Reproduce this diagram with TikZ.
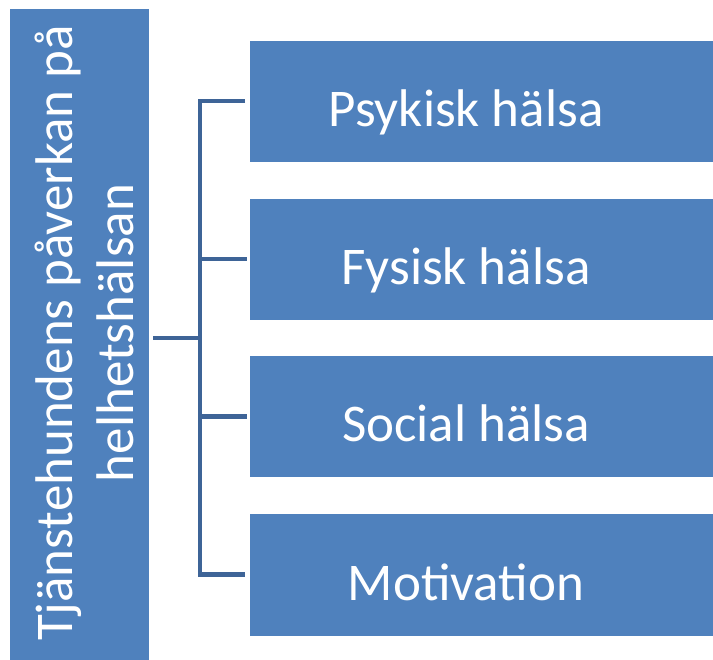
\documentclass[tikz,border=0pt]{standalone}
\usepackage{fontspec}
\setmainfont{Carlito}
\definecolor{boxblue}{HTML}{4F81BD}
\definecolor{linkblue}{HTML}{3E6497}
\begin{document}
\begin{tikzpicture}[x=1pt,y=-1pt,
  bluebox/.style={fill=boxblue,draw=none},
  lbl/.style={text=white,font=\fontsize{53}{61}\selectfont,inner sep=0pt},
  link/.style={draw=linkblue,line width=4.5pt,line cap=rect}]
\useasboundingbox (0,0) rectangle (713,660);
\fill[bluebox] (10,9) rectangle (149,665);
\node[lbl,rotate=90,align=center] (main) at (84,333) {Tjänstehundens påverkan på\\helhetshälsan};
\coordinate (mainR) at (155,338);
\foreach \i/\t/\yc in {1/Psykisk hälsa/101.5, 2/Fysisk hälsa/259.5, 3/Social hälsa/417, 4/Motivation/575}{
  \fill[bluebox] (250,\yc-60.5) rectangle (720,\yc+60.5);
  \node[lbl,anchor=base] (b\i) at (466,\yc+25) {\t};
  \coordinate (e\i) at (245,\yc-0.5);
}
\coordinate (j) at (200,338);
\draw[link] (mainR) -- (j);
\draw[link,line cap=butt] (e1) -| (j |- e1) -- (j |- e4) -- (e4);
\draw[link] (j |- e2) -- (e2);
\draw[link] (j |- e3) -- (e3);
\end{tikzpicture}
\end{document}
